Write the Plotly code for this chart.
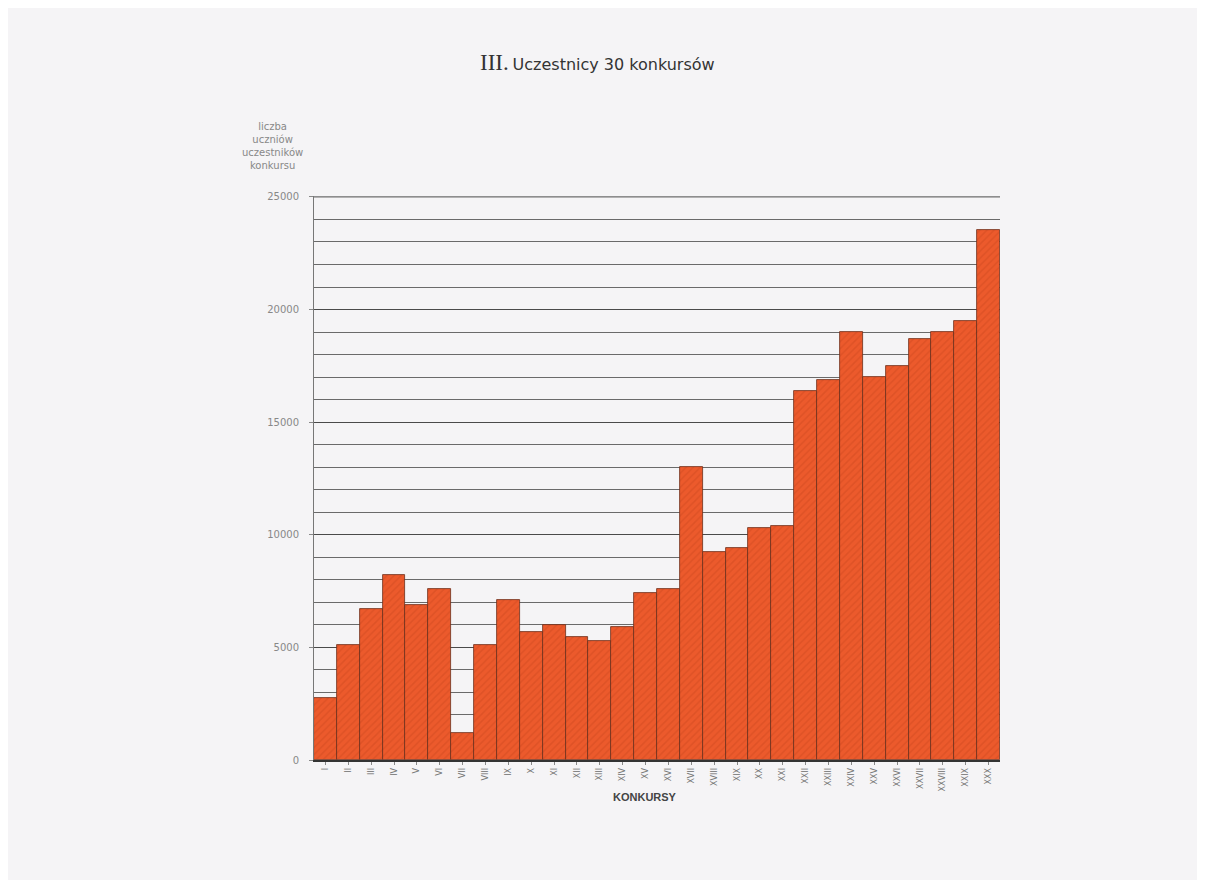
import plotly.graph_objects as go

konkursy = ["I", "II", "III", "IV", "V", "VI", "VII", "VIII", "IX", "X",
            "XI", "XII", "XIII", "XIV", "XV", "XVI", "XVII", "XVIII", "XIX", "XX",
            "XXI", "XXII", "XXIII", "XXIV", "XXV", "XXVI", "XXVII", "XXVIII", "XXIX", "XXX"]
uczestnicy = [2750, 5100, 6700, 8200, 6900, 7600, 1200, 5100, 7100, 5700,
              6000, 5450, 5300, 5900, 7400, 7600, 13000, 9250, 9400, 10300,
              10400, 16400, 16850, 19000, 17000, 17500, 18700, 19000, 19500, 23550]
y_ticks = [0, 5000, 10000, 15000, 20000, 25000]

bg = "#f5f4f6"
# target plot area on screen (page has an 8px body offset)
L, R, T, B = 314, 1000, 196, 760
OFF = 8
pw, ph = R - L, B - T

fig = go.Figure()
fig.add_trace(go.Bar(
    x=konkursy, y=uczestnicy,
    marker=dict(color="#ec5a2c",
                line=dict(color="#6b2f1a", width=0.8),
                pattern=dict(shape="/", fgcolor="#cf4a20", size=5, solidity=0.3)),
    width=1.0,
))
fig.update_layout(
    width=1205, height=880,
    paper_bgcolor=bg, plot_bgcolor=bg,
    margin=dict(l=L - OFF, r=1205 + OFF - R, t=T - OFF, b=880 + OFF - B),
    showlegend=False,
    bargap=0,
    font=dict(family="DejaVu Sans", color="#666"),
    xaxis=dict(
        type="category", tickangle=-90, tickfont=dict(size=8, color="#777"),
        showgrid=False, ticks="outside", ticklen=3, tickcolor="#888",
        showline=True, linecolor="#333", linewidth=1.5,
    ),
    yaxis=dict(
        range=[0, 25040], tickvals=y_ticks, ticktext=[str(v) for v in y_ticks],
        tickfont=dict(size=10, color="#888"),
        showgrid=True, gridcolor="#4a4a4a", gridwidth=1,
        minor=dict(dtick=1000, showgrid=True, gridcolor="#6a6a6a", gridwidth=1),
        showline=True, linecolor="#777", linewidth=1,
        ticks="outside", ticklen=4, tickcolor="#888",
        ticklabelstandoff=8, zeroline=False,
    ),
    annotations=[
        dict(text="<span style='font-family:Liberation Serif;font-size:23px'>III.</span> "
                  "<span style='font-family:DejaVu Sans;font-size:16px'>Uczestnicy 30 konkursów</span>",
             x=(597 - L) / pw, y=(B - 62) / ph, xref="paper", yref="paper",
             xanchor="center", yanchor="middle", showarrow=False,
             font=dict(color="#333")),
        dict(text="liczba<br>uczniów<br>uczestników<br>konkursu",
             x=(272 - L) / pw, y=(B - 146) / ph, xref="paper", yref="paper",
             xanchor="center", yanchor="middle", showarrow=False,
             font=dict(size=10, color="#888")),
        dict(text="<b>KONKURSY</b>",
             x=(645 - L) / pw, y=(B - 797) / ph, xref="paper", yref="paper",
             xanchor="center", yanchor="middle", showarrow=False,
             font=dict(size=11, color="#444", family="Liberation Sans")),
    ],
)
# top gridline at the highest tick value
fig.add_shape(type="line", xref="paper", yref="y", x0=0, x1=1,
              y0=y_ticks[-1], y1=y_ticks[-1], line=dict(color="#4a4a4a", width=1),
              layer="below")
fig.write_html("out.html")
